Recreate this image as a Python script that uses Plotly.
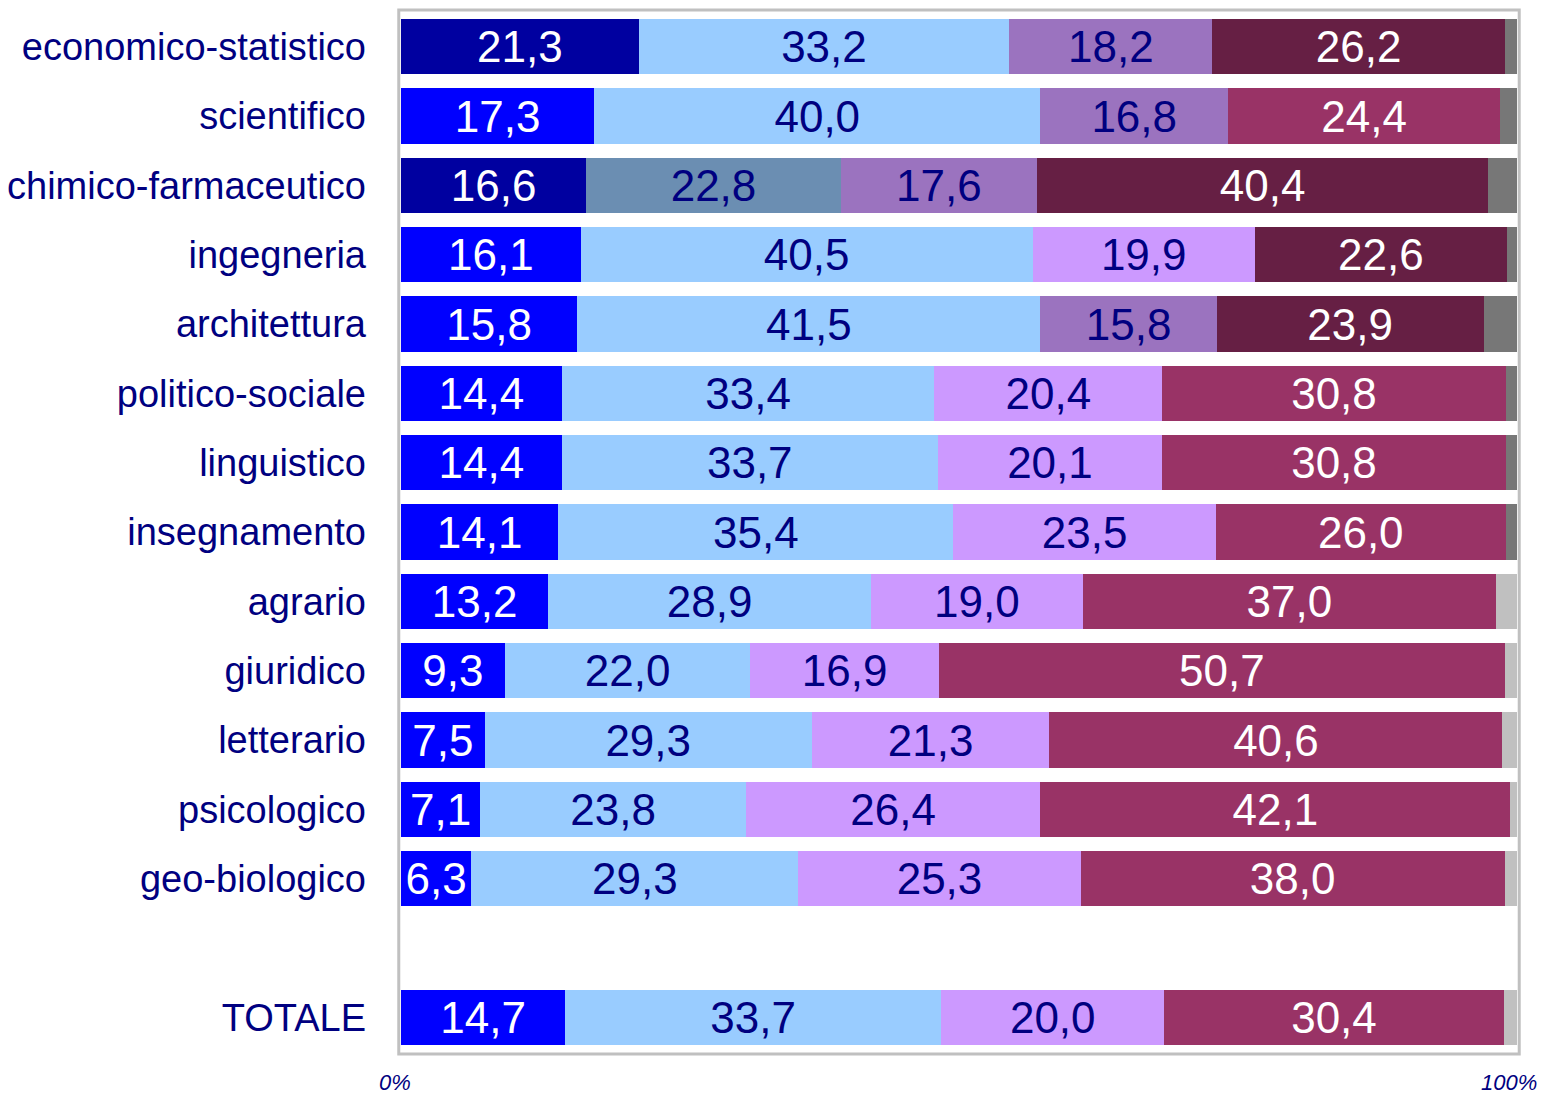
import plotly.graph_objects as go

categories = ["economico-statistico", "scientifico", "chimico-farmaceutico", "ingegneria",
              "architettura", "politico-sociale", "linguistico", "insegnamento", "agrario",
              "giuridico", "letterario", "psicologico", "geo-biologico", " ", "TOTALE"]

seg1 = [21.3, 17.3, 16.6, 16.1, 15.8, 14.4, 14.4, 14.1, 13.2, 9.3, 7.5, 7.1, 6.3, None, 14.7]
seg2 = [33.2, 40.0, 22.8, 40.5, 41.5, 33.4, 33.7, 35.4, 28.9, 22.0, 29.3, 23.8, 29.3, None, 33.7]
seg3 = [18.2, 16.8, 17.6, 19.9, 15.8, 20.4, 20.1, 23.5, 19.0, 16.9, 21.3, 26.4, 25.3, None, 20.0]
seg4 = [26.2, 24.4, 40.4, 22.6, 23.9, 30.8, 30.8, 26.0, 37.0, 50.7, 40.6, 42.1, 38.0, None, 30.4]
rest = [1.1, 1.5, 2.6, 0.9, 3.0, 1.0, 1.0, 1.0, 1.9, 1.1, 1.3, 0.6, 1.1, None, 1.2]

tick_vals = [0, 100]
tick_text = ["0%", "100%"]

# colours per row (darker shades mark the highlighted values)
NAVY, BLUE = "#0000A0", "#0000FF"
LBLUE, STEEL = "#99CCFF", "#6B8EB2"
MPURP, LPURP = "#9B73BF", "#CC99FF"
DMAR, MAR = "#661F44", "#993366"
DGRAY, LGRAY = "#777777", "#C0C0C0"
TXT = "#000080"

c1 = [NAVY, BLUE, NAVY] + [BLUE] * 12
c2 = [LBLUE, LBLUE, STEEL] + [LBLUE] * 12
c3 = [MPURP, MPURP, MPURP, LPURP, MPURP] + [LPURP] * 10
c4 = [DMAR, MAR, DMAR, DMAR, DMAR] + [MAR] * 10
c5 = [DGRAY] * 8 + [LGRAY] * 7


def fmt(vals):
    return ["" if v is None else f"{v:.1f}".replace(".", ",") for v in vals]


fig = go.Figure()
for vals, cols, tcol in [(seg1, c1, "white"), (seg2, c2, TXT), (seg3, c3, TXT),
                         (seg4, c4, "white"), (rest, c5, None)]:
    fig.add_trace(go.Bar(
        y=categories, x=vals, orientation="h",
        marker=dict(color=cols, line=dict(width=0)),
        text=fmt(vals) if tcol else None,
        textposition="inside", insidetextanchor="middle", constraintext="none",
        textfont=dict(family="Liberation Sans, Arial", size=44, color=tcol or "white"),
        hoverinfo="skip", showlegend=False,
    ))

fig.add_shape(type="rect", xref="paper", yref="paper",
              x0=-0.002, x1=1.002, y0=-0.002, y1=1.002,
              line=dict(color="#C0C0C0", width=3), fillcolor="rgba(0,0,0,0)")

# x tick labels as annotations so the "100%" one is not clipped at the right edge
for v, t in zip(tick_vals, tick_text):
    fig.add_annotation(x=v, y=0, xref="x", yref="paper", text=t, showarrow=False,
                       xanchor="center" if v == 0 else "right",
                       xshift=-6 if v == 0 else 22, yshift=-30, yanchor="middle",
                       font=dict(size=22, style="italic", color=TXT))

# page body has an 8px margin, so the figure is a bit smaller than the window
fig.update_layout(
    width=1537, height=1087,
    barmode="stack", bargap=0.2,
    plot_bgcolor="white", paper_bgcolor="white",
    margin=dict(l=393, r=28, t=4, b=43, autoexpand=False),
    font=dict(family="Liberation Sans, Arial", color=TXT),
    xaxis=dict(range=[0, 100], showticklabels=False, showgrid=False,
               zeroline=False, showline=False, ticks="", automargin=False),
    yaxis=dict(categoryorder="array", categoryarray=categories, autorange="reversed",
               showgrid=False, zeroline=False, showline=False, ticks="",
               automargin=False,
               ticklabelstandoff=34, tickfont=dict(size=38, color=TXT)),
)

fig.write_html("out.html")
